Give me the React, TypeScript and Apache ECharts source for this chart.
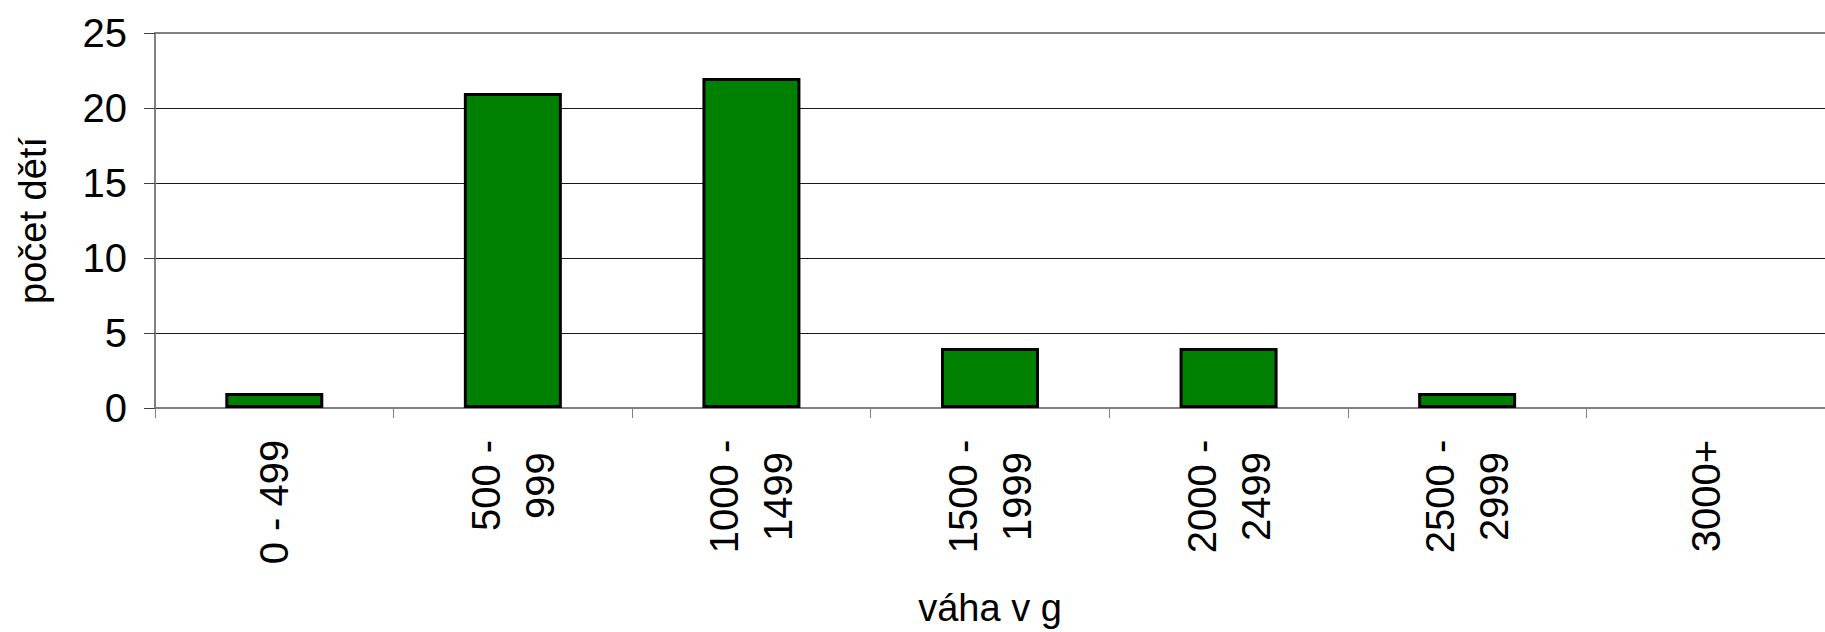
import React, { useEffect, useRef } from "react";
import * as echarts from "echarts";

const categories = ["0 - 499", "500 -\n999", "1000 -\n1499", "1500 -\n1999", "2000 -\n2499", "2500 -\n2999", "3000+"];
const counts = [1, 21, 22, 4, 4, 1, 0];
const yTicks = { min: 0, max: 25, interval: 5 };
const xTitle = "váha v g";
const yTitle = "počet dětí";

const FONT = "'Liberation Sans', Arial, sans-serif";
const LABEL_SIZE = 40;

function measure(text: string, size: number): number {
  const c = document.createElement("canvas").getContext("2d");
  if (!c) return text.length * size * 0.55;
  c.font = `${size}px 'Liberation Sans', Arial, sans-serif`;
  return c.measureText(text).width;
}

export default function App() {
  const ref = useRef<HTMLDivElement>(null);
  useEffect(() => {
    if (!ref.current) return;
    const rich: Record<string, any> = {};
    categories.forEach((cat, i) => {
      const w = Math.max(...cat.split("\n").map((s) => measure(s, LABEL_SIZE)));
      rich["c" + i] = {
        width: Math.ceil(w) + 1,
        align: "center",
        fontSize: LABEL_SIZE,
        lineHeight: 54,
        fontFamily: FONT,
        color: "#000",
      };
    });
    const chart = echarts.init(ref.current, undefined, { renderer: "svg" });
    chart.setOption({
      animation: false,
      backgroundColor: "#ffffff",
      grid: { left: 155, top: 33, width: 1684, height: 379, containLabel: false },
      xAxis: [
        {
          type: "category",
          data: categories,
          position: "bottom",
          name: xTitle,
          nameLocation: "middle",
          nameGap: 181,
          nameTextStyle: { fontSize: 38, color: "#000", fontFamily: FONT },
          axisLine: { show: true, lineStyle: { color: "#808080", width: 2 } },
          axisTick: { show: true, length: 10, alignWithLabel: false, lineStyle: { color: "#808080", width: 1 } },
          axisLabel: {
            interval: 0,
            rotate: 90,
            margin: 31,
            fontSize: LABEL_SIZE,
            lineHeight: 54,
            color: "#000",
            fontFamily: FONT,
            formatter: (value: string, index: number) =>
              value.split("\n").map((s) => `{c${index}|${s}}`).join("\n"),
            rich,
          },
          splitLine: { show: false },
        },
        {
          type: "category",
          data: categories,
          position: "top",
          axisLine: { show: true, lineStyle: { color: "#808080", width: 2 } },
          axisTick: { show: false },
          axisLabel: { show: false },
          splitLine: { show: false },
        },
      ],
      yAxis: {
        type: "value",
        min: yTicks.min,
        max: yTicks.max,
        interval: yTicks.interval,
        name: yTitle,
        nameLocation: "middle",
        nameGap: 103,
        nameTextStyle: { fontSize: 38, color: "#000", fontFamily: FONT },
        axisLine: { show: true, lineStyle: { color: "#808080", width: 2 } },
        axisTick: { show: true, length: 11, lineStyle: { color: "#404040", width: 1 } },
        axisLabel: { fontSize: LABEL_SIZE, color: "#000", fontFamily: FONT, margin: 28 },
        splitLine: { show: true, lineStyle: { color: "#1a1a1a", width: 1 } },
      },
      series: [
        {
          type: "bar",
          xAxisIndex: 0,
          data: counts.map((v) => (v === 0 ? { value: v, itemStyle: { borderWidth: 0 } } : v)),
          barWidth: 98,
          itemStyle: { color: "#008000", borderColor: "#000000", borderWidth: 3 },
        },
      ],
    });
    return () => chart.dispose();
  }, []);
  return <div ref={ref} style={{ position: "fixed", left: 0, top: 0, width: 1825, height: 632 }} />;
}
